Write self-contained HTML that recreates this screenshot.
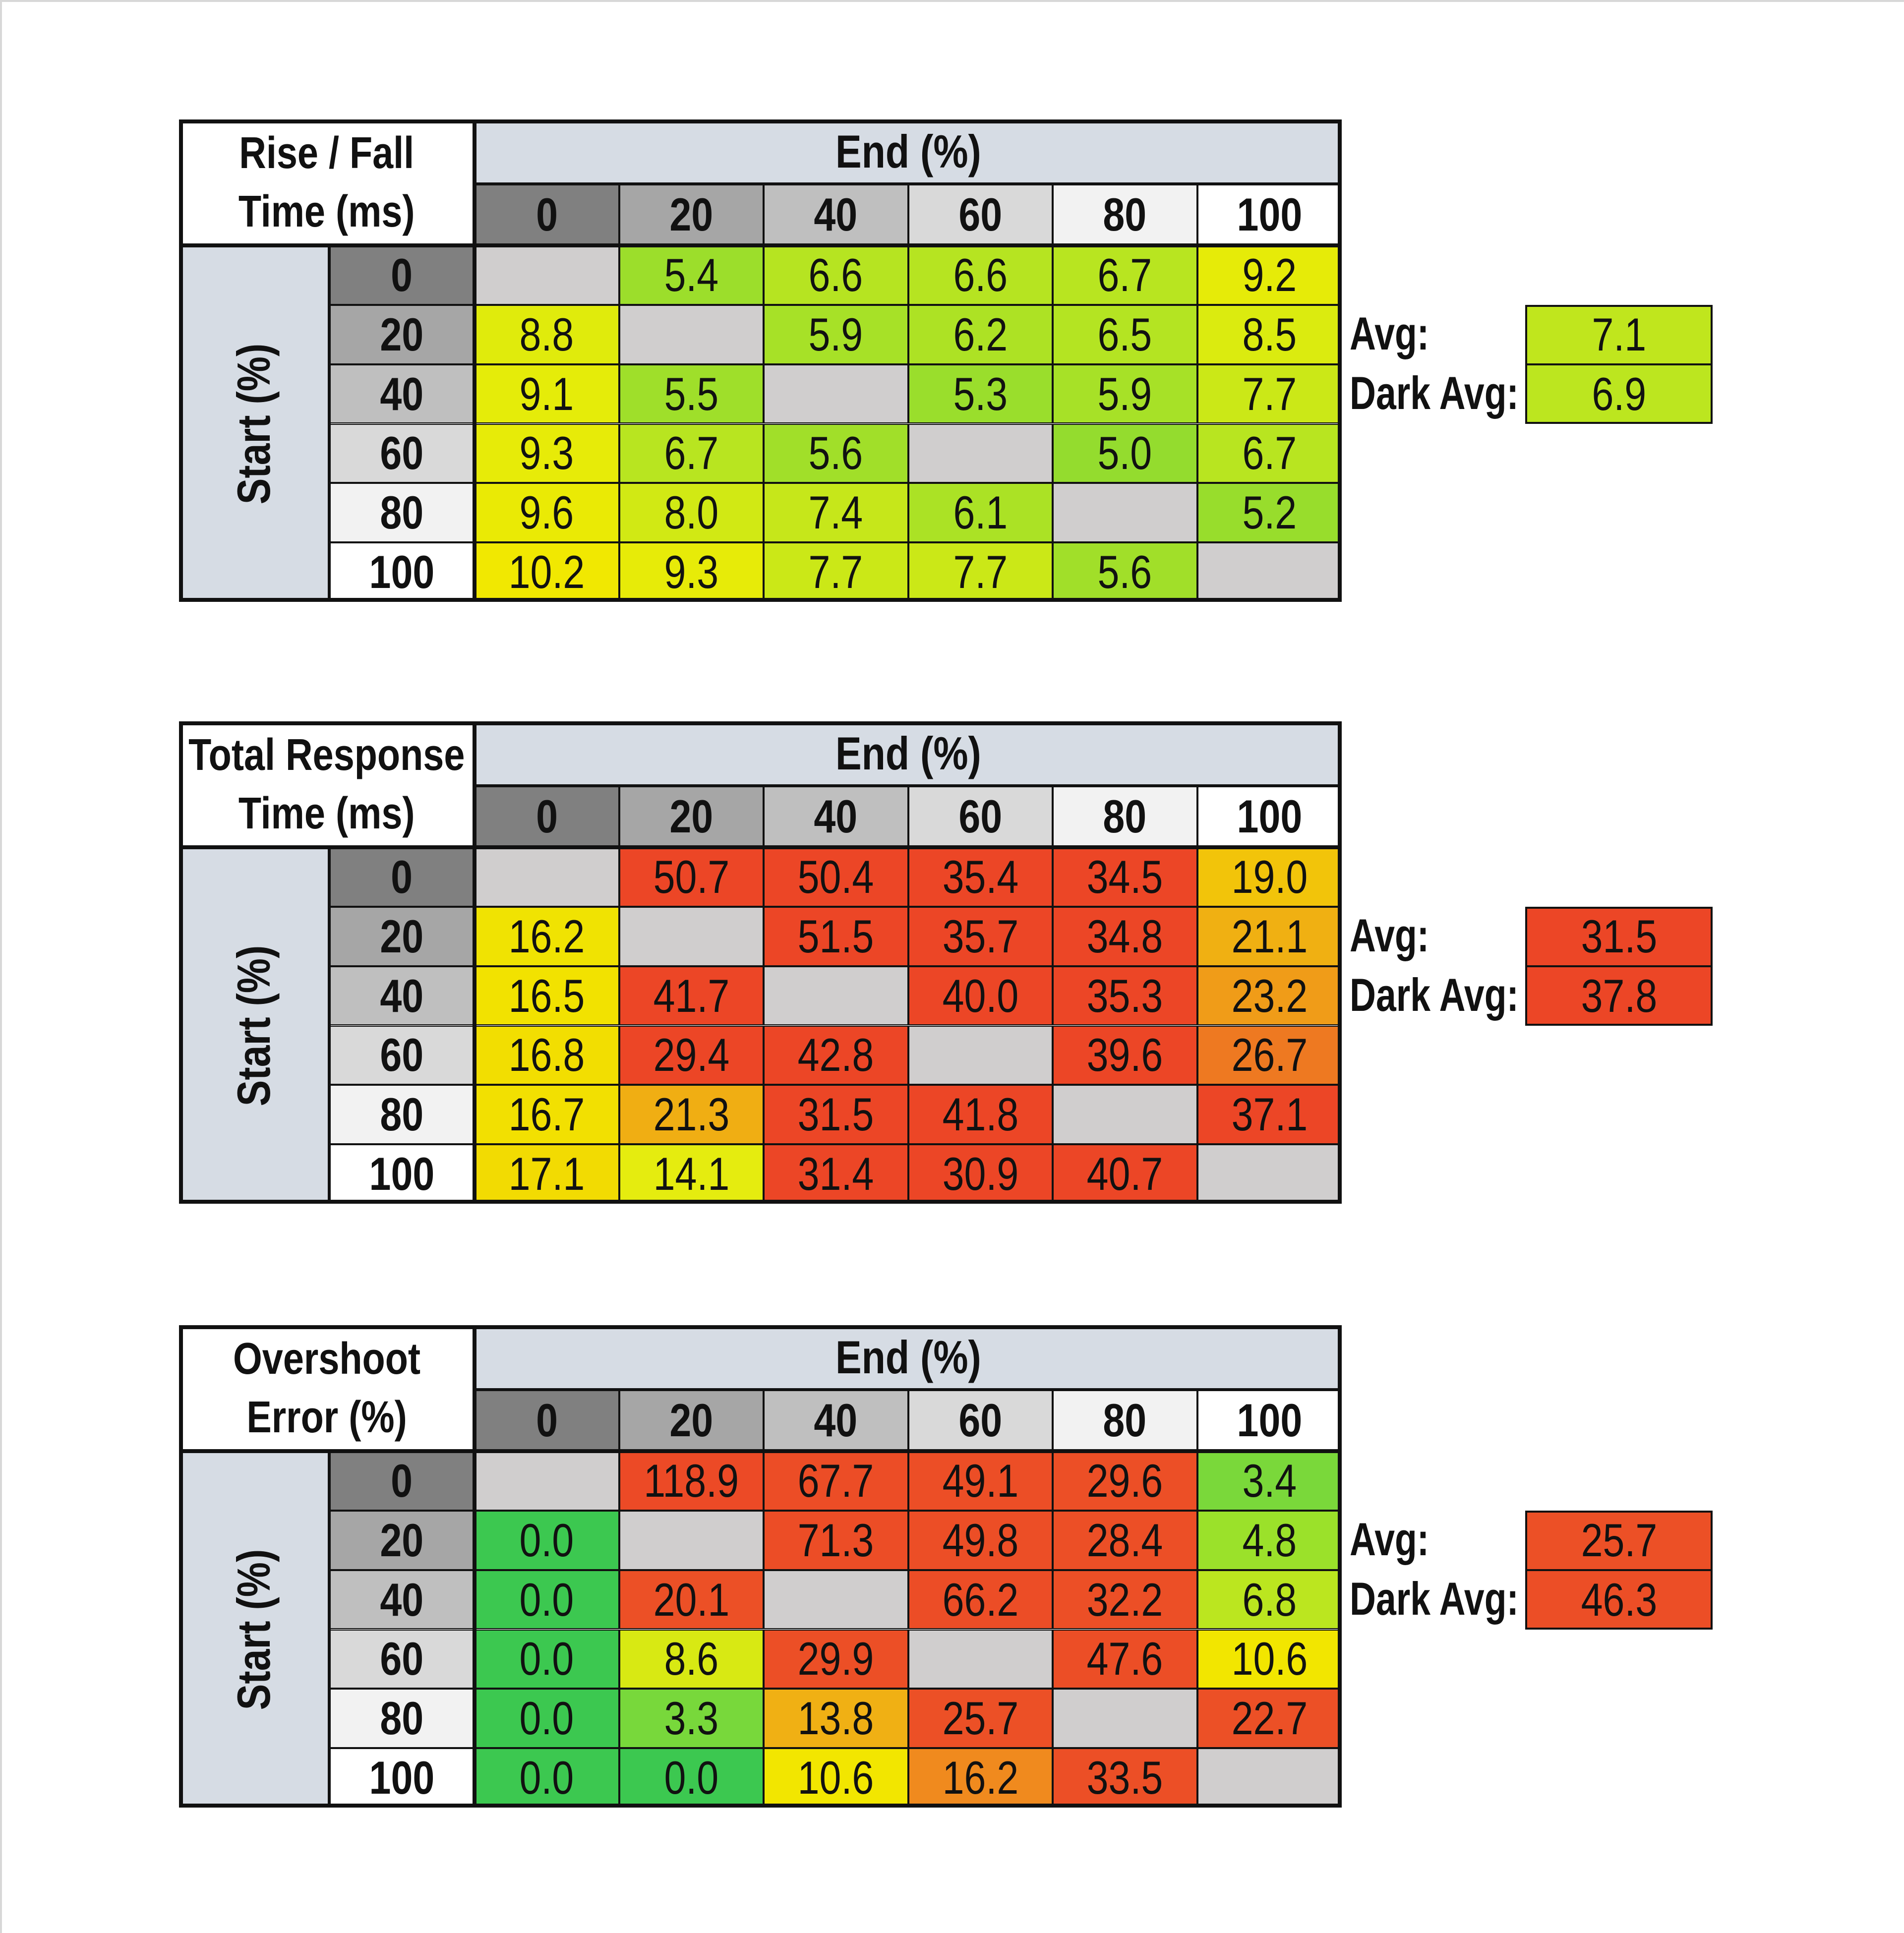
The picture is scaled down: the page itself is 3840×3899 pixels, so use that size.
<!DOCTYPE html>
<html><head><meta charset="utf-8">
<style>
html,body{margin:0;padding:0;background:#fff;}
#root{position:relative;width:3840px;height:3899px;background:#fff;overflow:hidden;font-family:"Liberation Sans",sans-serif;}
#frame{position:absolute;left:0;top:0;width:3840px;height:3899px;box-sizing:border-box;border-top:4px solid #d8d8d8;border-left:4px solid #d8d8d8;pointer-events:none;}
.c{position:absolute;box-sizing:border-box;border:2px solid #111;display:flex;align-items:center;justify-content:center;color:#111;font-size:94px;}
.c span{display:inline-block;transform:scaleX(0.84);white-space:nowrap;}
.b{font-weight:bold;}
.ln{position:absolute;background:#111;}
.lbl{position:absolute;font-size:94px;font-weight:bold;color:#111;white-space:nowrap;transform-origin:left center;transform:scaleX(0.78);}
</style></head>
<body>
<div id="root"><div id="frame"></div></div>
<script>
const cols = ['0','20','40','60','80','100'];
const rows = ['0','20','40','60','80','100'];
const titles = [['Rise / Fall','Time (ms)'],['Total Response','Time (ms)'],['Overshoot','Error (%)']];
const riseFall = [
 [null,5.4,6.6,6.6,6.7,9.2],
 [8.8,null,5.9,6.2,6.5,8.5],
 [9.1,5.5,null,5.3,5.9,7.7],
 [9.3,6.7,5.6,null,5.0,6.7],
 [9.6,8.0,7.4,6.1,null,5.2],
 [10.2,9.3,7.7,7.7,5.6,null]];
const totalResp = [
 [null,50.7,50.4,35.4,34.5,19.0],
 [16.2,null,51.5,35.7,34.8,21.1],
 [16.5,41.7,null,40.0,35.3,23.2],
 [16.8,29.4,42.8,null,39.6,26.7],
 [16.7,21.3,31.5,41.8,null,37.1],
 [17.1,14.1,31.4,30.9,40.7,null]];
const overshoot = [
 [null,118.9,67.7,49.1,29.6,3.4],
 [0.0,null,71.3,49.8,28.4,4.8],
 [0.0,20.1,null,66.2,32.2,6.8],
 [0.0,8.6,29.9,null,47.6,10.6],
 [0.0,3.3,13.8,25.7,null,22.7],
 [0.0,0.0,10.6,16.2,33.5,null]];
const avgs = [7.1,31.5,25.7];
const darkAvgs = [6.9,37.8,46.3];

const scales = [
 [[5,[148,220,46]],[7,[190,230,30]],[9,[228,236,10]],[10.3,[242,232,0]]],
 [[14,[228,236,16]],[16.5,[242,226,0]],[19,[242,196,10]],[21.5,[240,172,20]],[24,[240,148,26]],[27,[238,118,34]],[29,[236,70,38]],[200,[236,70,38]]],
 [[0,[60,200,80]],[3.4,[122,216,58]],[5,[160,226,40]],[7,[190,230,30]],[9,[222,234,16]],[10.6,[242,230,0]],[13.8,[240,176,20]],[16.2,[240,138,30]],[19,[236,80,38]],[200,[236,70,38]]]
];
function colorFor(t,v){
  const s=scales[t];
  if(v<=s[0][0]) return 'rgb('+s[0][1].join(',')+')';
  for(let i=1;i<s.length;i++){
    if(v<=s[i][0]){
      const a=s[i-1],b=s[i];const f=(v-a[0])/(b[0]-a[0]);
      const c=a[1].map((x,k)=>Math.round(x+(b[1][k]-x)*f));
      return 'rgb('+c.join(',')+')';
    }
  }
  return 'rgb('+s[s.length-1][1].join(',')+')';
}
const datasets=[riseFall,totalResp,overshoot];
const grays=['#808080','#a6a6a6','#bfbfbf','#d9d9d9','#f2f2f2','#ffffff'];
const root=document.getElementById('root');
const X0=361,XS=664,XD=957,XR=2706,Y0=241,YH=371,YD=495,YB=1214;
const CW=(XR-XD)/6, RH=(YB-YD)/6;
const offs=[0,1214,2432];
function cell(x,y,w,h,bg,txt,bold){
  const d=document.createElement('div');
  d.className='c'+(bold?' b':'');
  d.style.left=x+'px';d.style.top=y+'px';d.style.width=w+'px';d.style.height=h+'px';
  d.style.background=bg;
  if(txt!==null&&txt!==undefined){const s=document.createElement('span');s.innerHTML=txt;d.appendChild(s);}
  root.appendChild(d);return d;
}
function line(x,y,w,h){const l=document.createElement('div');l.className='ln';l.style.left=x+'px';l.style.top=y+'px';l.style.width=w+'px';l.style.height=h+'px';root.appendChild(l);return l;}
for(let t=0;t<3;t++){
  const o=offs[t];
  let d=cell(X0,Y0+o,XD-X0,YD-Y0,'#fff',titles[t][0]+'<br>'+titles[t][1],true);
  
  
  d.firstChild.style.textAlign='center';d.firstChild.style.lineHeight='118px';d.style.fontSize='90px';
  d=cell(XD,Y0+o,XR-XD,YH-Y0,'#d6dce4','End (%)',true);
  
  
  d=cell(X0,YD+o,XS-X0,YB-YD,'#d6dce4','',true);
  
  
  d.firstChild.style.transform='rotate(-90deg) scaleX(0.84)';d.firstChild.textContent='Start (%)';
  for(let j=0;j<6;j++){
    d=cell(XD+j*CW,YH+o,CW,YD-YH,grays[j],cols[j],true);
    
    
  }
  for(let i=0;i<6;i++){
    d=cell(XS,YD+i*RH+o,XD-XS,RH,grays[i],rows[i],true);
    
    
    for(let j=0;j<6;j++){
      const v=datasets[t][i][j];
      d=cell(XD+j*CW,YD+i*RH+o,CW,RH,v===null?'#d0cece':colorFor(t,v),v===null?'':v.toFixed(1),false);
      
      
    }
  }
  line(X0,Y0+o,XR-X0,8);line(X0,YB+o-8,XR-X0,8);line(X0,Y0+o,8,YB-Y0);line(XR-8,Y0+o,8,YB-Y0);
  line(X0,YD+o-4,XR-X0,8);line(XD-4,Y0+o,8,YB-Y0);line(XS-3,YD+o,6,YB-YD);line(XD,YH+o-3,XR-XD,6);
  const ay=YD+RH+o;
  d=cell(3076,ay,378,RH,colorFor(t,avgs[t]),avgs[t].toFixed(1),false);
  
  
  d=cell(3076,ay+RH,378,RH,colorFor(t,darkAvgs[t]),darkAvgs[t].toFixed(1),false);
  
  
  line(3076,ay,378,4);line(3076,ay+2*RH-4,378,4);line(3076,ay,4,2*RH);line(3450,ay,4,2*RH);
  let l=document.createElement('div');l.className='lbl';l.textContent='Avg:';
  l.style.left='2722px';l.style.top=(ay+RH/2-56)+'px';
  
  
  root.appendChild(l);
  l=document.createElement('div');l.className='lbl';l.textContent='Dark Avg:';
  l.style.left='2722px';l.style.top=(ay+RH*1.5-56)+'px';
  
  
  root.appendChild(l);
}
</script>
</body></html>
